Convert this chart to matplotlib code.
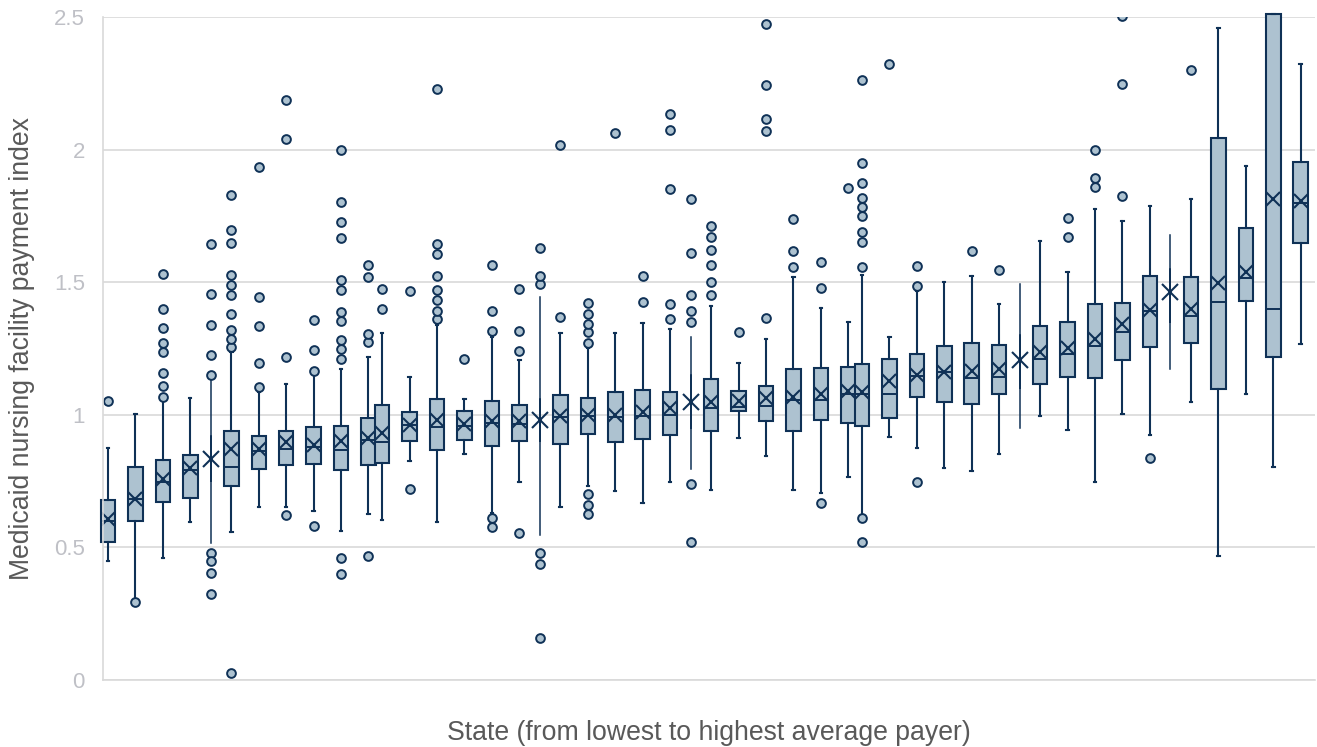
import matplotlib
matplotlib.use('Agg')
import matplotlib.pyplot as plt

plt.rcParams['font.family'] = ['Liberation Sans', 'DejaVu Sans']

# ---------------- data ----------------
whis_lo = [0.449, 0.300, 0.461, 0.595, 0.516, 0.558, 0.653, 0.654, 0.637, 0.562,
           0.626, 0.604, 0.824, 0.594, 0.851, 0.631, 0.748, 0.547, 0.653, 0.732,
           0.711, 0.669, 0.748, 0.794, 0.715, 0.912, 0.843, 0.715, 0.706, 0.765,
           0.622, 0.915, 0.873, 0.799, 0.787, 0.854, 0.950, 0.996, 0.942, 0.747,
           1.002, 0.925, 1.174, 1.049, 0.468, 1.080, 0.802, 1.266]
q1 = [0.519, 0.598, 0.671, 0.687, 0.750, 0.732, 0.797, 0.811, 0.816, 0.792,
      0.811, 0.817, 0.901, 0.866, 0.906, 0.883, 0.901, 0.900, 0.891, 0.927,
      0.896, 0.910, 0.925, 0.950, 0.940, 1.013, 0.977, 0.940, 0.980, 0.969,
      0.957, 0.989, 1.066, 1.048, 1.039, 1.078, 1.100, 1.118, 1.144, 1.137,
      1.206, 1.256, 1.350, 1.271, 1.097, 1.428, 1.218, 1.648]
median = [0.600, 0.682, 0.745, 0.792, 0.833, 0.805, 0.862, 0.870, 0.880, 0.867,
          0.905, 0.896, 0.960, 0.955, 0.958, 0.968, 0.965, 0.980, 0.990, 0.995,
          0.993, 0.995, 0.999, 1.049, 1.024, 1.028, 1.032, 1.056, 1.056, 1.077,
          1.077, 1.080, 1.148, 1.163, 1.138, 1.141, 1.206, 1.209, 1.228, 1.260,
          1.313, 1.390, 1.463, 1.374, 1.426, 1.514, 1.398, 1.800]
q3 = [0.677, 0.803, 0.831, 0.848, 0.920, 0.940, 0.920, 0.940, 0.954, 0.959,
      0.987, 1.038, 1.009, 1.061, 1.014, 1.051, 1.036, 1.060, 1.075, 1.063,
      1.085, 1.095, 1.086, 1.150, 1.135, 1.091, 1.107, 1.172, 1.177, 1.181,
      1.191, 1.209, 1.229, 1.261, 1.270, 1.265, 1.300, 1.334, 1.350, 1.416,
      1.423, 1.524, 1.550, 1.520, 2.042, 1.704, 2.512, 1.953]
whis_hi = [0.874, 1.004, 1.051, 1.063, 1.135, 1.236, 1.085, 1.115, 1.152, 1.172,
           1.219, 1.307, 1.142, 1.337, 1.060, 1.295, 1.206, 1.443, 1.310, 1.253,
           1.310, 1.345, 1.325, 1.295, 1.411, 1.197, 1.287, 1.519, 1.404, 1.350,
           1.529, 1.293, 1.468, 1.502, 1.522, 1.416, 1.495, 1.655, 1.537, 1.776,
           1.729, 1.788, 1.677, 1.815, 2.460, 1.939, 2.512, 2.321]
mean = [0.608, 0.682, 0.758, 0.799, 0.833, 0.870, 0.870, 0.897, 0.888, 0.900,
        0.913, 0.933, 0.962, 0.980, 0.964, 0.975, 0.975, 0.980, 0.996, 1.001,
        1.001, 1.009, 1.027, 1.049, 1.050, 1.052, 1.062, 1.069, 1.080, 1.090,
        1.085, 1.128, 1.151, 1.160, 1.165, 1.171, 1.206, 1.236, 1.253, 1.287,
        1.344, 1.396, 1.463, 1.399, 1.497, 1.539, 1.815, 1.808]
outliers = [
    [1.051],
    [0.293],
    [1.068, 1.110, 1.157, 1.236, 1.271, 1.327, 1.399, 1.530],
    [],
    [1.150, 1.224, 1.339, 1.456, 1.645, 0.479, 0.449, 0.404, 0.326],
    [1.255, 1.287, 1.320, 1.379, 1.451, 1.488, 1.527, 1.648, 1.695, 1.830, 0.027],
    [1.105, 1.197, 1.335, 1.443, 1.936],
    [1.219, 2.040, 2.188, 0.621],
    [1.167, 1.243, 1.357, 0.582],
    [1.211, 1.250, 1.282, 1.354, 1.389, 1.470, 1.507, 1.665, 1.727, 1.801, 1.998, 0.459, 0.399],
    [1.273, 1.305, 1.520, 1.566, 0.466],
    [1.399, 1.475],
    [1.468, 0.720],
    [1.362, 1.393, 1.433, 1.470, 1.525, 1.606, 1.645, 2.227],
    [1.211],
    [1.315, 1.391, 1.564, 0.610, 0.577],
    [1.241, 1.317, 1.473, 0.555],
    [1.492, 1.522, 1.628, 0.479, 0.437, 0.158],
    [1.367, 2.018],
    [1.271, 1.312, 1.344, 1.381, 1.421, 0.701, 0.659, 0.627],
    [2.064],
    [1.426, 1.522],
    [1.362, 1.419, 1.852, 2.074, 2.136],
    [1.350, 1.393, 1.451, 1.611, 1.815, 0.740, 0.521],
    [1.450, 1.500, 1.564, 1.621, 1.670, 1.712],
    [1.313],
    [1.366, 2.072, 2.116, 2.242, 2.474],
    [1.559, 1.616, 1.739],
    [1.477, 1.576, 0.668],
    [1.855],
    [1.559, 1.652, 1.689, 1.751, 1.784, 1.818, 1.874, 1.951, 2.262, 0.609, 0.521],
    [2.323],
    [1.485, 1.561, 0.748],
    [],
    [1.618],
    [1.547],
    [],
    [],
    [1.672, 1.742],
    [1.860, 1.892, 1.998],
    [1.825, 2.249, 2.503],
    [0.836],
    [],
    [2.301],
    [],
    [],
    [],
    [],
]
# states drawn only as mean marker + whisker (no box)
mean_only = [4, 17, 23, 36, 42]
# states drawn right next to the previous one
paired_with_prev = [11, 30]

yticks = [0, 0.5, 1, 1.5, 2, 2.5]
ytick_labels = ['0', '0.5', '1', '1.5', '2', '2.5']
x_label = 'State (from lowest to highest average payer)'
y_label = 'Medicaid nursing facility payment index'

# ---------------- layout ----------------
n = len(mean)
pos = [0.0]
for i in range(1, n):
    if i in paired_with_prev:
        gap = 0.5
    elif i in mean_only or (i - 1) in mean_only:
        gap = 0.75
    else:
        gap = 1.0
    pos.append(pos[-1] + gap)

navy = '#0f3156'
fill = '#adc2d0'
grid_c = '#d9d9d9'

stats = []
for i in range(n):
    stats.append(dict(whislo=whis_lo[i], q1=q1[i], med=median[i], q3=q3[i],
                      whishi=whis_hi[i], mean=mean[i], fliers=outliers[i]))

fig = plt.figure(figsize=(13.17, 7.47), dpi=100)
ax = fig.add_axes([103 / 1317, 1 - 680 / 747, (1315 - 103) / 1317, (680 - 17) / 747])

flier_style = dict(marker='o', markersize=6.3, markerfacecolor=fill,
                   markeredgecolor=navy, markeredgewidth=1.4)

box_idx = [i for i in range(n) if i not in mean_only]
arts = ax.bxp([stats[i] for i in box_idx], positions=[pos[i] for i in box_idx],
              widths=0.53, capwidths=0.09, patch_artist=True, showmeans=True,
              manage_ticks=False,
              boxprops=dict(facecolor=fill, edgecolor=navy, linewidth=1.5),
              whiskerprops=dict(color=navy, linewidth=1.5),
              capprops=dict(color=navy, linewidth=1.5),
              medianprops=dict(color=navy, linewidth=1.4),
              meanprops=dict(marker='x', markersize=10.5, markeredgecolor=navy,
                             markeredgewidth=1.5),
              flierprops=flier_style)
for key in ['boxes', 'whiskers', 'caps', 'medians', 'means']:
    for a in arts[key]:
        a.set_clip_on(False)

ax.bxp([stats[i] for i in mean_only], positions=[pos[i] for i in mean_only],
       widths=0.001, capwidths=0.0, patch_artist=False, showmeans=True,
       manage_ticks=False,
       boxprops=dict(color=navy, linewidth=1.1),
       whiskerprops=dict(color=navy, linewidth=1.1),
       capprops=dict(color=navy, linewidth=0),
       medianprops=dict(color=navy, linewidth=0),
       meanprops=dict(marker='x', markersize=11, markeredgecolor=navy,
                      markeredgewidth=1.5),
       flierprops=flier_style)

ppu = (1300.7 - 108) / pos[-1]
ax.set_xlim(-(108 - 103) / ppu, pos[-1] + (1315 - 1300.7) / ppu)
ax.set_ylim(0, 2.5)
ax.set_yticks(yticks)
ax.set_yticklabels(ytick_labels)
ax.set_xticks([])
ax.tick_params(axis='y', length=0, pad=13, labelsize=16, labelcolor='#bfc0c6')
ax.yaxis.grid(True, color=grid_c, linewidth=1.2)
ax.set_axisbelow(True)
for s in ['top', 'right']:
    ax.spines[s].set_visible(False)
for s in ['left', 'bottom']:
    ax.spines[s].set_color(grid_c)
    ax.spines[s].set_linewidth(1.2)

ax.set_xlabel(x_label, fontsize=19.2, color='#595959')
ax.set_ylabel(y_label, fontsize=19.2, color='#595959')
ax.xaxis.label.set_va('center')
ax.yaxis.label.set_va('center')
ax.xaxis.set_label_coords(0.5, (680 - 733) / 663)
ax.yaxis.set_label_coords((22 - 103) / 1212, 0.5)

fig.savefig('out.png', dpi=100)
